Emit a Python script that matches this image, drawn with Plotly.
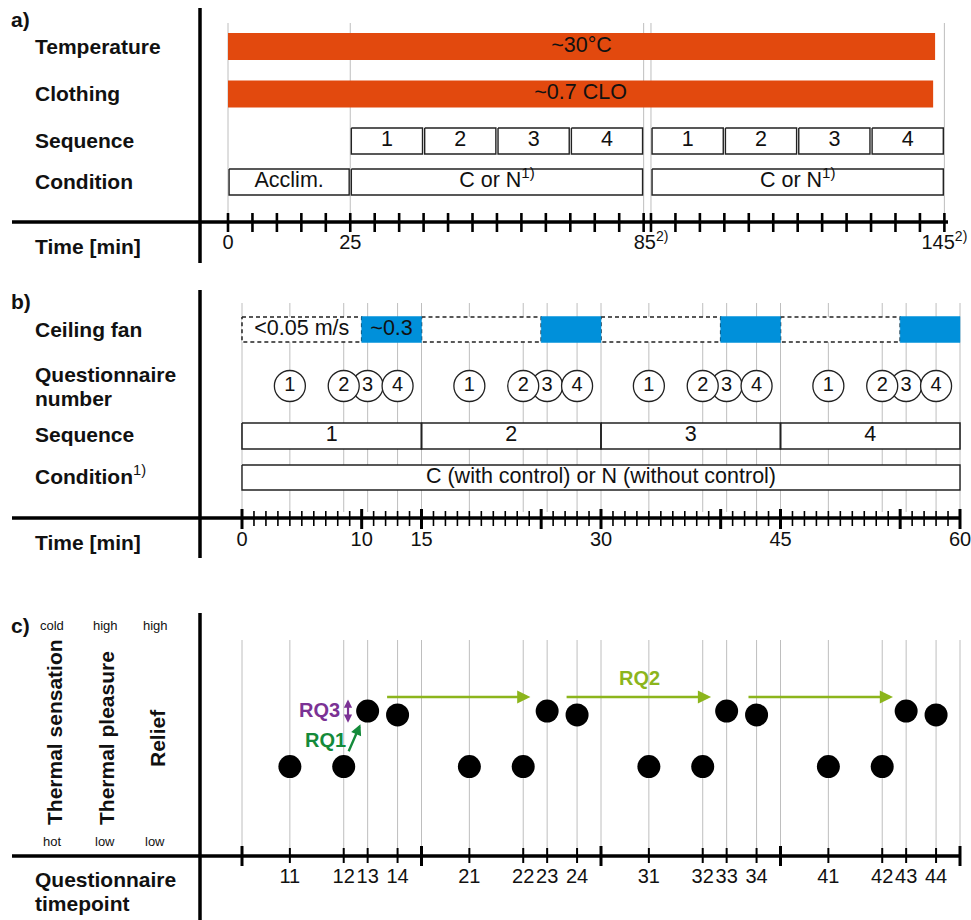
import plotly.graph_objects as go

W, H = 971, 920
FONT = "Liberation Sans, Arial, Helvetica, sans-serif"
ORANGE = "#E2490E"
BLUE = "#0090DA"
GRID = "#BEBEBE"
PURPLE = "#7B3294"
GREEN1 = "#148A3A"
GREEN2 = "#8CB51C"
TXT = "#111111"

# ---------------- data: panel a ----------------
a_bar_rows = ["Temperature", "Clothing"]
a_bar_text = ["~30°C", "~0.7 CLO"]
a_bar_start = [0, 0]
a_bar_end = [143.1, 142.7]
a_seq_start = [25, 40, 55, 70, 85, 100, 115, 130]
a_seq_part = [1, 1, 1, 1, 2, 2, 2, 2]
a_seq_label = ["1", "2", "3", "4", "1", "2", "3", "4"]
a_seq_len = 15
a_cond_start = [0, 25, 85]
a_cond_end = [25, 85, 145]
a_cond_part = [1, 1, 2]
a_cond_label = ["Acclim.", "C or N<sup>1)</sup>", "C or N<sup>1)</sup>"]
a_ticks_part1 = [0, 5, 10, 15, 20, 25, 30, 35, 40, 45, 50, 55, 60, 65, 70, 75, 80, 85]
a_ticks_part2 = [85, 90, 95, 100, 105, 110, 115, 120, 125, 130, 135, 140, 145]
a_tick_label_vals = [0, 25, 85, 145]
a_tick_label_part = [1, 1, 2, 2]
a_tick_labels = ["0", "25", "85<sup>2)</sup>", "145<sup>2)</sup>"]
a_grid_vals = [0, 25, 85, 85, 145]
a_grid_part = [1, 1, 1, 2, 2]

# ---------------- data: panel b ----------------
b_seq_start = [0, 15, 30, 45]
b_seq_len = 15
b_seq_label = ["1", "2", "3", "4"]
b_fan_off_start = [0, 15, 30, 45]
b_fan_off_end = [10, 25, 40, 55]
b_fan_on_start = [10, 25, 40, 55]
b_fan_on_end = [15, 30, 45, 60]
b_fan_off_text = "<0.05 m/s"
b_fan_on_text = "~0.3"
q_times = [4, 8.5, 10.5, 13, 19, 23.5, 25.5, 28, 34, 38.5, 40.5, 43, 49, 53.5, 55.5, 58]
q_numbers = ["1", "2", "3", "4"] * 4
b_cond_text = "C (with control) or N (without control)"
b_minor_ticks = list(range(0, 61))
b_major_ticks = [0, 10, 15, 25, 30, 40, 45, 55, 60]
b_tick_labels = [0, 10, 15, 30, 45, 60]
b_bounds = [0, 15, 30, 45, 60]

# ---------------- data: panel c ----------------
c_labels = ["11", "12", "13", "14", "21", "22", "23", "24",
            "31", "32", "33", "34", "41", "42", "43", "44"]
c_rating = [0.414, 0.414, 0.671, 0.653, 0.414, 0.414, 0.671, 0.653,
            0.414, 0.414, 0.671, 0.653, 0.414, 0.414, 0.671, 0.653]
rq2_start = [12.0, 27.0, 42.2]
rq2_end = [24.1, 39.2, 54.4]

# ---------------- layout constants ----------------
A0, A_SCALE, A_BREAK = 228.0, 4.89, 1.5
B0, B_SCALE = 242.0, 718.0 / 60.0
INSET = 0.22
BOX_FS = 21.5
TICK_FS = 20
LAB_FS = 21


def pa(t, part):
    return t + (A_BREAK if part == 2 else 0)


def vlines(xs, y0, y1):
    xx, yy = [], []
    for x in xs:
        xx += [x, x, None]
        yy += [y0, y1, None]
    return xx, yy


def rects(starts, ends, y0, y1):
    xx, yy = [], []
    for s, e in zip(starts, ends):
        xx += [s, e, e, s, s, None]
        yy += [y0, y0, y1, y1, y0, None]
    return xx, yy


fig = go.Figure()
common = dict(showlegend=False, hoverinfo="skip")


def box_trace(starts, ends, y0, y1, xaxis, fill, line_color="#222", line_width=1.4, dash="solid"):
    xx, yy = rects(starts, ends, y0, y1)
    return go.Scatter(x=xx, y=yy, mode="lines", fill="toself", fillcolor=fill,
                      line=dict(color=line_color, width=line_width, dash=dash),
                      xaxis=xaxis, yaxis="y", **common)


# gridlines as shapes beneath everything
shapes = []
for v, p in zip(a_grid_vals, a_grid_part):
    shapes.append(dict(type="line", xref="x", yref="y", x0=pa(v, p), x1=pa(v, p), y0=23, y1=222,
                       line=dict(color=GRID, width=1), layer="below"))
gb = sorted(set(q_times + b_bounds))
for v in gb:
    for (y0, y1) in [(303, 512), (640, 856)]:
        shapes.append(dict(type="line", xref="x2", yref="y", x0=v, x1=v, y0=y0, y1=y1,
                           line=dict(color=GRID, width=1), layer="below"))

# panel a: orange bars
rows_a_bar = [46.5, 94]
for (r, s, e) in zip(rows_a_bar, a_bar_start, a_bar_end):
    fig.add_trace(box_trace([pa(s, 1)], [pa(e, 2)], r - 13.5, r + 13.5, "x", ORANGE,
                            line_color=ORANGE, line_width=0))
# panel a sequence boxes
fig.add_trace(box_trace([pa(s, p) + INSET for s, p in zip(a_seq_start, a_seq_part)],
                        [pa(s + a_seq_len, p) - INSET for s, p in zip(a_seq_start, a_seq_part)],
                        128, 154, "x", "white"))
# panel a condition boxes
fig.add_trace(box_trace([pa(s, p) + INSET for s, p in zip(a_cond_start, a_cond_part)],
                        [pa(e, p) - INSET for e, p in zip(a_cond_end, a_cond_part)],
                        169, 195, "x", "white"))

# panel b: dashed fan boxes, then blue fan-on boxes
fig.add_trace(box_trace(b_fan_off_start, b_fan_off_end, 317, 342, "x2", "white",
                        line_width=1.5, dash="4px,3px"))
fig.add_trace(box_trace(b_fan_on_start, b_fan_on_end, 316.5, 342.5, "x2", BLUE,
                        line_color=BLUE, line_width=0.5))
# panel b sequence + condition
fig.add_trace(box_trace(b_seq_start, [s + b_seq_len for s in b_seq_start], 423, 449, "x2", "white",
                        line_width=1.6))
fig.add_trace(box_trace([b_bounds[0]], [b_bounds[-1]], 465, 490, "x2", "white"))

# questionnaire circles (circle 3 drawn first)
order = [2, 0, 1, 3]
cx, ct = [], []
for k in range(4):
    for j in order:
        cx.append(q_times[4 * k + j])
        ct.append(q_numbers[4 * k + j])
fig.add_trace(go.Scatter(x=cx, y=[386] * len(cx), mode="markers+text", text=ct,
                         textposition="middle center",
                         textfont=dict(family=FONT, size=20, color=TXT),
                         marker=dict(size=31, color="white", line=dict(color="#222", width=1.3)),
                         xaxis="x2", yaxis="y", **common))

# ticks
tx, ty = vlines([pa(t, 1) for t in a_ticks_part1] + [pa(t, 2) for t in a_ticks_part2], 213, 232)
fig.add_trace(go.Scatter(x=tx, y=ty, mode="lines", line=dict(color="black", width=2.6),
                         xaxis="x", yaxis="y", **common))
tx, ty = vlines(b_minor_ticks, 511, 526)
fig.add_trace(go.Scatter(x=tx, y=ty, mode="lines", line=dict(color="black", width=1.6),
                         xaxis="x2", yaxis="y", **common))
tx, ty = vlines(b_major_ticks, 509, 529)
fig.add_trace(go.Scatter(x=tx, y=ty, mode="lines", line=dict(color="black", width=3),
                         xaxis="x2", yaxis="y", **common))
tx, ty = vlines(q_times, 848, 863)
fig.add_trace(go.Scatter(x=tx, y=ty, mode="lines", line=dict(color="black", width=2),
                         xaxis="x2", yaxis="y", **common))
tx, ty = vlines(b_bounds, 846, 866)
fig.add_trace(go.Scatter(x=tx, y=ty, mode="lines", line=dict(color="black", width=3),
                         xaxis="x2", yaxis="y", **common))

# panel c dots
fig.add_trace(go.Scatter(x=q_times, y=c_rating, mode="markers",
                         marker=dict(size=23, color="black"),
                         xaxis="x2", yaxis="y2", **common))

# texts
tf = dict(family=FONT, size=BOX_FS, color=TXT)
tkf = dict(family=FONT, size=TICK_FS, color=TXT)
fig.add_trace(go.Scatter(
    x=[(pa(s, 1) + pa(e, 2)) / 2 for s, e in zip(a_bar_start, a_bar_end)], y=rows_a_bar, mode="text",
    text=a_bar_text, textfont=tf, textposition="middle center", xaxis="x", yaxis="y", **common))
fig.add_trace(go.Scatter(
    x=[pa(s, p) + a_seq_len / 2 for s, p in zip(a_seq_start, a_seq_part)], y=[141] * 8, mode="text",
    text=a_seq_label, textfont=tf, textposition="middle center", xaxis="x", yaxis="y", **common))
fig.add_trace(go.Scatter(
    x=[pa((s + e) / 2, p) for s, e, p in zip(a_cond_start, a_cond_end, a_cond_part)], y=[182] * 3,
    mode="text", text=a_cond_label, textfont=tf, textposition="middle center",
    xaxis="x", yaxis="y", **common))
fig.add_trace(go.Scatter(
    x=[pa(v, p) for v, p in zip(a_tick_label_vals, a_tick_label_part)], y=[244] * 4, mode="text",
    text=a_tick_labels, textfont=tkf, textposition="middle center",
    xaxis="x", yaxis="y", **common))
fig.add_trace(go.Scatter(
    x=[(b_fan_off_start[0] + b_fan_off_end[0]) / 2, (b_fan_on_start[0] + b_fan_on_end[0]) / 2],
    y=[329.5, 329.5], mode="text", text=[b_fan_off_text, b_fan_on_text], textfont=tf,
    textposition="middle center", xaxis="x2", yaxis="y", **common))
fig.add_trace(go.Scatter(
    x=[s + b_seq_len / 2 for s in b_seq_start] + [(b_bounds[0] + b_bounds[-1]) / 2],
    y=[436] * 4 + [477.5], mode="text", text=b_seq_label + [b_cond_text], textfont=tf,
    textposition="middle center", xaxis="x2", yaxis="y", **common))
fig.add_trace(go.Scatter(
    x=b_tick_labels, y=[541] * len(b_tick_labels), mode="text",
    text=[str(v) for v in b_tick_labels], textfont=tkf,
    textposition="middle center", xaxis="x2", yaxis="y", **common))
fig.add_trace(go.Scatter(
    x=q_times, y=[878] * len(q_times), mode="text", text=c_labels, textfont=tkf,
    textposition="middle center", xaxis="x2", yaxis="y", **common))


# frame lines (paper coords)
def P(x, y):
    return x / W, 1 - y / H


for (x0, y0, x1, y1) in [(200, 8, 200, 263), (12, 222, 948, 222),
                         (200, 290, 200, 558), (12, 518, 960, 518),
                         (200, 613, 200, 920), (12, 856, 960, 856)]:
    a, b = P(x0, y0)
    c, d = P(x1, y1)
    shapes.append(dict(type="line", xref="paper", yref="paper", x0=a, y0=b, x1=c, y1=d,
                       line=dict(color="black", width=3.5), layer="above"))

annotations = []


def lab(text, x, y, size=LAB_FS, anchor="left", angle=0, color=TXT):
    a, b = P(x, y)
    annotations.append(dict(text=text, x=a, y=b, xref="paper", yref="paper", showarrow=False,
                            xanchor=anchor, yanchor="middle", textangle=angle,
                            font=dict(family=FONT, size=size, color=color)))


lab("<b>a)</b>", 9, 20)
lab("<b>Temperature</b>", 33, 46)
lab("<b>Clothing</b>", 33, 93)
lab("<b>Sequence</b>", 33, 140)
lab("<b>Condition</b>", 33, 181)
lab("<b>Time [min]</b>", 33, 246)
lab("<b>b)</b>", 9, 301)
lab("<b>Ceiling fan</b>", 33, 329)
lab("<b>Questionnaire</b>", 33, 375)
lab("<b>number</b>", 33, 398)
lab("<b>Sequence</b>", 33, 434)
lab("<b>Condition</b><sup>1)</sup>", 33, 475)
lab("<b>Time [min]</b>", 33, 542)
lab("<b>c)</b>", 9, 625)
lab("<b>Questionnaire</b>", 33, 879)
lab("<b>timepoint</b>", 33, 903)
lab("cold", 52, 625, size=13, anchor="center")
lab("high", 105, 625, size=13, anchor="center")
lab("high", 155, 625, size=13, anchor="center")
lab("hot", 52, 841, size=13, anchor="center")
lab("low", 105, 841, size=13, anchor="center")
lab("low", 155, 841, size=13, anchor="center")
lab("<b>Thermal sensation</b>", 54, 732, size=21, anchor="center", angle=-90)
lab("<b>Thermal pleasure</b>", 106, 738, size=21, anchor="center", angle=-90)
lab("<b>Relief</b>", 157, 738, size=21, anchor="center", angle=-90)

# RQ labels and arrows (panel c data coords)
RQ_Y2 = 0.736
for s, e in zip(rq2_start, rq2_end):
    annotations.append(dict(x=e, y=RQ_Y2, ax=s, ay=RQ_Y2, xref="x2", yref="y2",
                            axref="x2", ayref="y2", showarrow=True, text="",
                            arrowhead=2, arrowsize=1.1, arrowwidth=2.4, arrowcolor=GREEN2))
annotations.append(dict(x=33.2, y=0.824, xref="x2", yref="y2", text="<b>RQ2</b>", showarrow=False,
                        font=dict(family=FONT, size=20, color=GREEN2)))
annotations.append(dict(x=6.45, y=0.676, xref="x2", yref="y2", text="<b>RQ3</b>", showarrow=False,
                        font=dict(family=FONT, size=20, color=PURPLE)))
annotations.append(dict(x=8.86, y=0.724, ax=8.86, ay=0.61, xref="x2", yref="y2",
                        axref="x2", ayref="y2", showarrow=True, text="",
                        arrowhead=2, arrowsize=0.75, arrowwidth=2.2, arrowcolor=PURPLE,
                        arrowside="end+start"))
annotations.append(dict(x=6.95, y=0.537, xref="x2", yref="y2", text="<b>RQ1</b>", showarrow=False,
                        font=dict(family=FONT, size=20, color=GREEN1)))
annotations.append(dict(x=9.9, y=0.61, ax=8.86, ay=0.478, xref="x2", yref="y2",
                        axref="x2", ayref="y2", showarrow=True, text="",
                        arrowhead=2, arrowsize=0.9, arrowwidth=2.4, arrowcolor=GREEN1))

fig.update_layout(
    width=W, height=H, margin=dict(l=0, r=0, t=0, b=0),
    paper_bgcolor="white", plot_bgcolor="rgba(0,0,0,0)",
    showlegend=False,
    font=dict(family=FONT, color=TXT),
    xaxis=dict(domain=[0, 1], range=[-A0 / A_SCALE, (W - A0) / A_SCALE], visible=False,
               fixedrange=True, anchor="y"),
    xaxis2=dict(domain=[0, 1], range=[-B0 / B_SCALE, (W - B0) / B_SCALE], visible=False,
                fixedrange=True, anchor="y"),
    yaxis=dict(domain=[0, 1], range=[H, 0], visible=False, fixedrange=True, anchor="x"),
    yaxis2=dict(domain=[1 - 856 / H, 1 - 640 / H], range=[0, 1], visible=False,
                fixedrange=True, anchor="x2"),
    shapes=shapes, annotations=annotations,
)

fig.write_html("out.html", config={"displayModeBar": False},
               post_script="document.body.style.margin='0';document.body.style.overflow='hidden';")
